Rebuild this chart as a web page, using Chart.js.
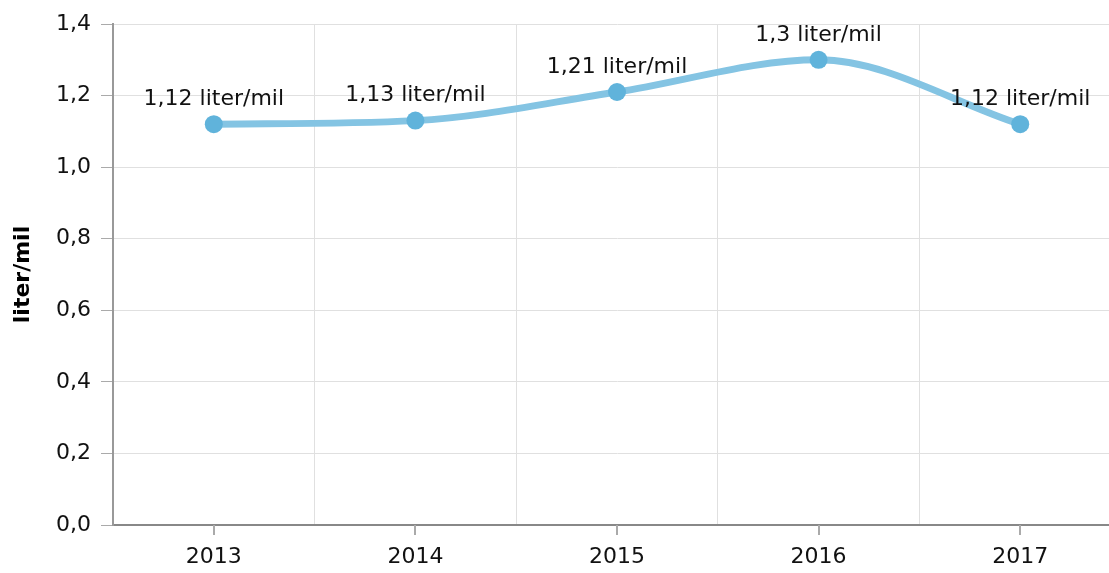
<!DOCTYPE html>
<html lang="sv">
  <head>
    <meta charset="UTF-8" />
    <title>liter/mil</title>
    <script src="https://cdn.jsdelivr.net/npm/chart.js@4/dist/chart.umd.min.js"></script>
    <style>
      html,
      body {
        margin: 0;
        padding: 0;
        overflow: hidden;
        background: #fff;
      }
      #chart {
        display: block;
      }
    </style>
  </head>
  <body>
    <canvas id="chart" width="1130" height="573"></canvas>
    <script>
      const years = ["2013", "2014", "2015", "2016", "2017"];
      const consumption = [1.12, 1.13, 1.21, 1.3, 1.12];
      const unit = "liter/mil";
      const yTicks = [0, 0.2, 0.4, 0.6, 0.8, 1.0, 1.2, 1.4];

      const FONT = "'DejaVu Sans', Verdana, sans-serif";
      const fmt = (v) => String(v).replace(".", ",");

      // tick marks at category centres (grid lines sit between categories)
      const xTickMarks = {
        id: "xTickMarks",
        afterDraw(chart) {
          const ctx = chart.ctx;
          const x = chart.scales.x;
          ctx.save();
          ctx.strokeStyle = "#aaa";
          ctx.lineWidth = 2;
          years.forEach((_, i) => {
            const px = Math.round(x.getPixelForValue(i));
            ctx.beginPath();
            ctx.moveTo(px, x.top);
            ctx.lineTo(px, x.top + 10);
            ctx.stroke();
          });
          ctx.restore();
        },
      };

      const valueLabels = {
        id: "valueLabels",
        afterDatasetsDraw(chart) {
          const ctx = chart.ctx;
          const meta = chart.getDatasetMeta(0);
          ctx.save();
          ctx.font = "22px " + FONT;
          ctx.fillStyle = "#111";
          ctx.textAlign = "center";
          ctx.textBaseline = "middle";
          meta.data.forEach((pt, i) => {
            ctx.fillText(fmt(consumption[i]) + " " + unit, pt.x, pt.y - 25);
          });
          ctx.restore();
        },
      };

      new Chart(document.getElementById("chart"), {
        type: "line",
        data: {
          labels: years,
          datasets: [
            {
              data: consumption,
              borderColor: "#84c4e3",
              borderWidth: 7,
              cubicInterpolationMode: "monotone",
              pointRadius: 9,
              pointBackgroundColor: "#60b3db",
              pointBorderColor: "#60b3db",
              pointBorderWidth: 0,
              fill: false,
            },
          ],
        },
        options: {
          responsive: false,
          animation: false,
          layout: { padding: { top: 24, right: 0, bottom: 0, left: 0 } },
          plugins: {
            legend: { display: false },
            tooltip: { enabled: false },
          },
          scales: {
            x: {
              offset: true,
              grid: {
                offset: true,
                color: "#e0e0e0",
                lineWidth: 1,
                drawTicks: false,
              },
              border: { color: "#888", width: 2 },
              ticks: {
                padding: 19,
                color: "#111",
                font: { family: FONT, size: 22 },
              },
              afterFit(scale) {
                scale.height = 48;
              },
            },
            y: {
              min: 0,
              max: 1.4,
              afterBuildTicks(scale) {
                scale.ticks = yTicks.map((v) => ({ value: v }));
              },
              grid: {
                color: "#e0e0e0",
                tickColor: "#aaa",
                tickLength: 12,
                lineWidth: 1,
              },
              border: { color: "#999", width: 2 },
              ticks: {
                padding: 10,
                color: "#111",
                font: { family: FONT, size: 22 },
                callback: (v) => v.toFixed(1).replace(".", ","),
              },
              title: {
                display: true,
                text: unit,
                color: "#000",
                font: { family: FONT, size: 22, weight: "bold" },
                padding: { top: 10, bottom: 0 },
              },
              afterFit(scale) {
                scale.width = 113;
              },
            },
          },
        },
        plugins: [xTickMarks, valueLabels],
      });
    </script>
  </body>
</html>
